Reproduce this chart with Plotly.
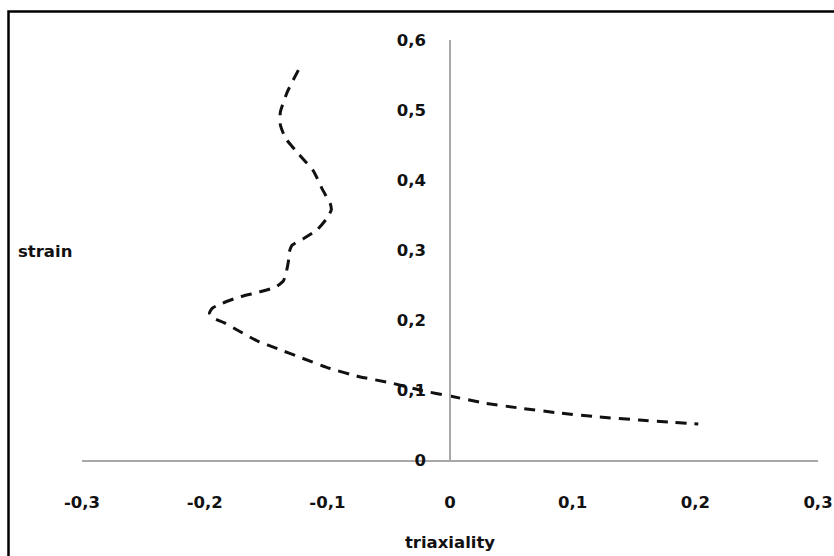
import plotly.graph_objects as go

# data
triaxiality = [-0.1236, -0.1326, -0.1383, -0.1383, -0.1342, -0.1228, -0.1114, -0.1041,
               -0.0976, -0.0968, -0.1009, -0.1082, -0.1196, -0.1286, -0.1310, -0.1318,
               -0.1334, -0.1358, -0.1423, -0.1554, -0.1717, -0.1855, -0.1937, -0.1961,
               -0.1929, -0.1839, -0.1717, -0.1570, -0.1407, -0.1228, -0.0984, -0.0739,
               -0.0479, -0.0226, 0.0000, 0.0280, 0.0565, 0.0891, 0.1217, 0.1543,
               0.1787, 0.2024]
strain = [0.557, 0.526, 0.497, 0.479, 0.460, 0.436, 0.413, 0.387,
          0.366, 0.357, 0.344, 0.329, 0.316, 0.307, 0.297, 0.283,
          0.269, 0.256, 0.247, 0.240, 0.233, 0.224, 0.217, 0.210,
          0.203, 0.196, 0.184, 0.170, 0.159, 0.147, 0.131, 0.119,
          0.110, 0.099, 0.0914, 0.0814, 0.0743, 0.0671, 0.0614, 0.0571,
          0.0543, 0.0514]

x_ticks = [-0.3, -0.2, -0.1, 0, 0.1, 0.2, 0.3]
x_tick_labels = ["-0,3", "-0,2", "-0,1", "0", "0,1", "0,2", "0,3"]
y_ticks = [0, 0.1, 0.2, 0.3, 0.4, 0.5, 0.6]
y_tick_labels = ["0", "0,1", "0,2", "0,3", "0,4", "0,5", "0,6"]

FONT = "DejaVu Sans"
tick_font = dict(family=FONT, size=16.5, color="#111111", weight="bold")
AXIS_COLOR = "#a8a8a8"

fig = go.Figure()
fig.add_trace(go.Scatter(
    x=triaxiality, y=strain, mode="lines",
    line=dict(color="#111111", width=3, dash="11px,8px", shape="spline", smoothing=0.5),
    showlegend=False, hoverinfo="skip",
))

fig.update_layout(
    width=834, height=556,
    margin=dict(l=82, r=16, t=40, b=96, autoexpand=False),
    paper_bgcolor="white", plot_bgcolor="white",
    showlegend=False,
    xaxis=dict(
        range=[-0.3, 0.3], tickvals=x_ticks, ticktext=x_tick_labels,
        showgrid=False, zeroline=False, showline=True, linecolor=AXIS_COLOR, linewidth=1.5,
        ticks="", tickfont=tick_font, ticklabelstandoff=26, automargin=False,
        title=dict(text="triaxiality", font=dict(family=FONT, size=16.5, color="#111111", weight="bold"),
                   standoff=26),
        fixedrange=True,
    ),
    yaxis=dict(
        range=[0, 0.6], tickvals=y_ticks, ticktext=y_tick_labels,
        anchor="free", position=0.5,
        showgrid=False, zeroline=False, showline=True, linecolor=AXIS_COLOR, linewidth=1.5,
        ticks="", tickfont=tick_font, ticklabelstandoff=20, automargin=False,
        fixedrange=True,
    ),
    annotations=[dict(
        text="strain", xref="paper", yref="paper", x=(16 - 82) / 736, y=(460 - 251) / 420,
        xanchor="left", yanchor="middle", showarrow=False,
        font=dict(family=FONT, size=16.5, color="#111111", weight="bold"),
    )],
    shapes=[dict(
        type="rect", xref="paper", yref="paper",
        x0=(8.5 - 82) / 736, x1=1.1, y0=-0.3, y1=(460 - 11.5) / 420,
        line=dict(color="black", width=2.5), fillcolor="rgba(0,0,0,0)", layer="below",
    )],
)

fig.write_html("out.html")
